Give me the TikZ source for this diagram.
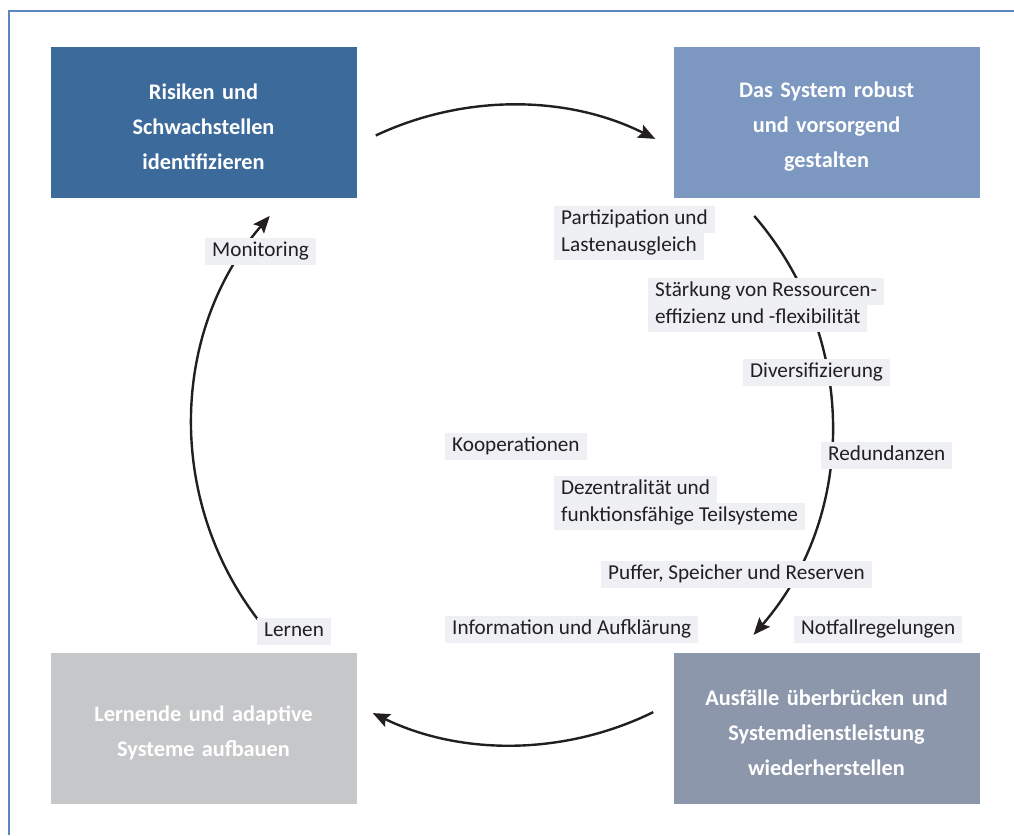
\documentclass[tikz,border=0pt]{standalone}
\usepackage{fontspec}
\setmainfont{Carlito}
\usetikzlibrary{arrows.meta,calc}
\definecolor{boxA}{HTML}{3C6A9A}
\definecolor{boxB}{HTML}{7C98C0}
\definecolor{boxC}{HTML}{C6C7C9}
\definecolor{boxD}{HTML}{8D97AC}
\definecolor{labbg}{HTML}{EFF0F4}
\definecolor{arrowc}{HTML}{231F20}
\definecolor{framec}{HTML}{5B86BF}
\definecolor{labtext}{HTML}{231F20}
\begin{document}
\begin{tikzpicture}[x=1pt,y=-1pt,
  box/.style={fill=#1, text=white, font=\fontsize{22.3}{35}\selectfont\bfseries,
    align=center, minimum width=306pt, minimum height=151pt, inner sep=0pt, text width=300pt,
    execute at begin node={\rule{0pt}{24pt}}},
  lab/.style={fill=labbg, text=labtext, font=\fontsize{21.2}{26}\selectfont, anchor=north west,
    inner xsep=7pt, inner ysep=0pt, minimum height=26.5pt, text height=14.5pt, text depth=4.5pt},
  flow/.style={line width=2.4pt, draw=arrowc, -{Stealth[length=17pt,width=14pt,inset=3pt]}},
  frameline/.style={draw=framec, line width=1.3pt}]
\useasboundingbox (0,0) rectangle (1014,835);
% frame
\draw[frameline] (9,835) -- (9,11) -- (1014,11);
% boxes
\node[box=boxA] (b1) at (203.5,122.5) {Risiken und\\Schwachstellen\\identifizieren};
\node[box=boxB] (b2) at (826.5,122.5) {Das System robust\\und vorsorgend\\gestalten};
\node[box=boxC] (b3) at (203.5,728.5) {Lernende und adaptive\\Systeme aufbauen};
\node[box=boxD] (b4) at (826.5,728.5) {Ausfälle überbrücken und\\Systemdienstleistung\\wiederherstellen};
% cycle arcs
\coordinate (c) at (512,425);
\coordinate (t1) at ($(c)+(244.8:320)$);
\coordinate (r1) at ($(c)+(-40.8:320)$);
\coordinate (d1) at ($(c)+(63.8:320)$);
\coordinate (l1) at ($(c)+(140:320)$);
\draw[flow] (t1) arc[start angle=244.8, end angle=296.6, radius=320];
\draw[flow] (r1) arc[start angle=-40.8, end angle=41, radius=320];
\draw[flow] (d1) arc[start angle=63.8, end angle=115.8, radius=320];
\draw[flow] (l1) arc[start angle=140, end angle=220.8, radius=320];
% labels
\node[lab] (p1) at (554,206) {Partizipation und};
\node[lab] (p2) at (p1.south west) {Lastenausgleich};
\node[lab] (s1) at (648,278) {Stärkung von Ressourcen-};
\node[lab] (s2) at (s1.south west) {effizienz und -flexibilität};
\node[lab] (dv) at (743,359) {Diversifizierung};
\node[lab] (rd) at (821,442) {Redundanzen};
\node[lab] (ko) at (445,433) {Kooperationen};
\node[lab] (dz1) at (554,476) {Dezentralität und};
\node[lab] (dz2) at (dz1.south west) {funktionsfähige Teilsysteme};
\node[lab] (pu) at (601,561) {Puffer, Speicher und Reserven};
\node[lab] (in) at (445,616) {Information und Aufklärung};
\node[lab] (nf) at (794,616) {Notfallregelungen};
\node[lab] (le) at (257,618) {Lernen};
\node[lab] (mo) at (205,238) {Monitoring};
\end{tikzpicture}
\end{document}
